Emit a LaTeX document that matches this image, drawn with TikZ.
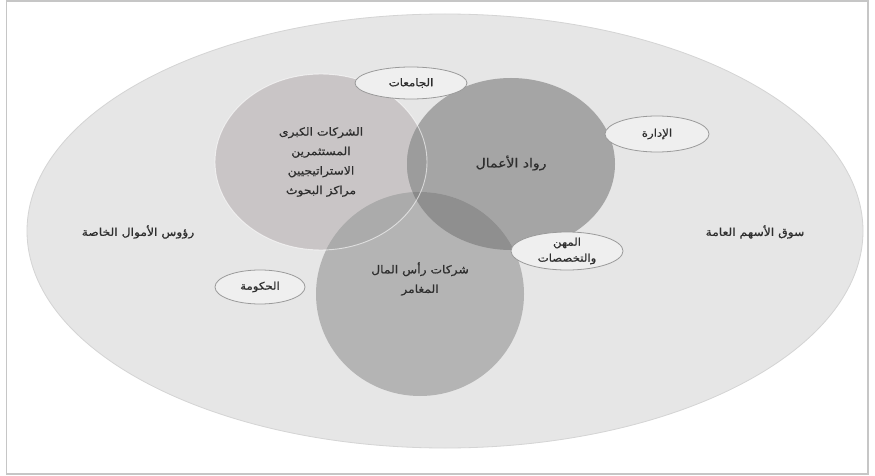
\documentclass[tikz,border=0pt]{standalone}
\usepackage{fontspec}
\usetikzlibrary{shapes.geometric}
\TeXXeTstate=1
\newfontfamily\arabicfont[Script=Arabic, FakeStretch=1.12, FakeBold=0.8]{DejaVu Sans}
\newcommand\AR[1]{\beginR #1\endR}
\definecolor{bigfill}{HTML}{E6E6E6}
\definecolor{bigline}{HTML}{D4D4D4}
\definecolor{cA}{HTML}{C9C5C6}
\definecolor{cB}{HTML}{A5A5A5}
\definecolor{cC}{HTML}{B4B4B4}
\definecolor{cAB}{HTML}{9C9C9C}
\definecolor{cAC}{HTML}{ABABAB}
\definecolor{cBC}{HTML}{8F8F8F}
\definecolor{cABC}{HTML}{8A8A8A}
\definecolor{txt}{HTML}{2E2E2E}
\definecolor{smallfill}{HTML}{EFEFEF}
\definecolor{smallline}{HTML}{9A9A9A}
\begin{document}
\begin{tikzpicture}[x=1pt,y=-1pt,
  lbl/.style={font=\arabicfont\fontsize{11}{19.5}\selectfont, text=txt, align=center, inner sep=0pt},
  tag/.style={ellipse, draw=smallline, line width=0.8pt, fill=smallfill, inner sep=0pt,
     font=\arabicfont\fontsize{10.5}{16}\selectfont, text=txt, align=center}]
\useasboundingbox (0,0) rectangle (875,476);
\fill[white] (0,0) rectangle (875,476);
\draw[gray!45, line width=1.5pt] (6.5,1) rectangle (868,474);
% outer ellipse
\fill[bigfill] (445,231) ellipse [x radius=418pt, y radius=217pt];
\draw[bigline, line width=0.8pt] (445,231) ellipse [x radius=418pt, y radius=217pt];
% three circles
\fill[cA] (321,162) ellipse [x radius=106pt, y radius=88pt];
\fill[cB] (511,164) ellipse [x radius=104pt, y radius=86pt];
\fill[cC] (420,294) ellipse [x radius=104pt, y radius=102pt];
\begin{scope}
  \clip (321,162) ellipse [x radius=106pt, y radius=88pt];
  \fill[cAB] (511,164) ellipse [x radius=104pt, y radius=86pt];
  \fill[cAC] (420,294) ellipse [x radius=104pt, y radius=102pt];
\end{scope}
\begin{scope}
  \clip (511,164) ellipse [x radius=104pt, y radius=86pt];
  \fill[cBC] (420,294) ellipse [x radius=104pt, y radius=102pt];
  \clip (420,294) ellipse [x radius=104pt, y radius=102pt];
  \fill[cABC] (321,162) ellipse [x radius=106pt, y radius=88pt];
\end{scope}
\draw[white, opacity=0.6, line width=0.9pt] (321,162) ellipse [x radius=106pt, y radius=88pt];
% texts
\node[lbl] (corp) at (321,162) {\AR{الشركات الكبرى}\\\AR{المستثمرين}\\\AR{الاستراتيجيين}\\\AR{مراكز البحوث}};
\node[lbl, font=\arabicfont\fontsize{12.5}{19.5}\selectfont] (entr) at (511,163) {\AR{رواد الأعمال}};
\node[lbl] (vc) at (420,279) {\AR{شركات رأس المال}\\\AR{المغامر}};
\node[lbl] (priv) at (138,232) {\AR{رؤوس الأموال الخاصة}};
\node[lbl] (pub) at (755,232) {\AR{سوق الأسهم العامة}};
% small ellipses
\node[tag, minimum width=112pt, minimum height=32pt] (uni) at (411,83) {\AR{الجامعات}};
\node[tag, minimum width=104pt, minimum height=36pt] (mgmt) at (657,134) {\AR{الإدارة}};
\node[tag, minimum width=112pt, minimum height=38pt] (prof) at (567,251) {\AR{المهن}\\\AR{والتخصصات}};
\node[tag, minimum width=90pt, minimum height=34pt] (gov) at (260,287) {\AR{الحكومة}};
\end{tikzpicture}
\end{document}
